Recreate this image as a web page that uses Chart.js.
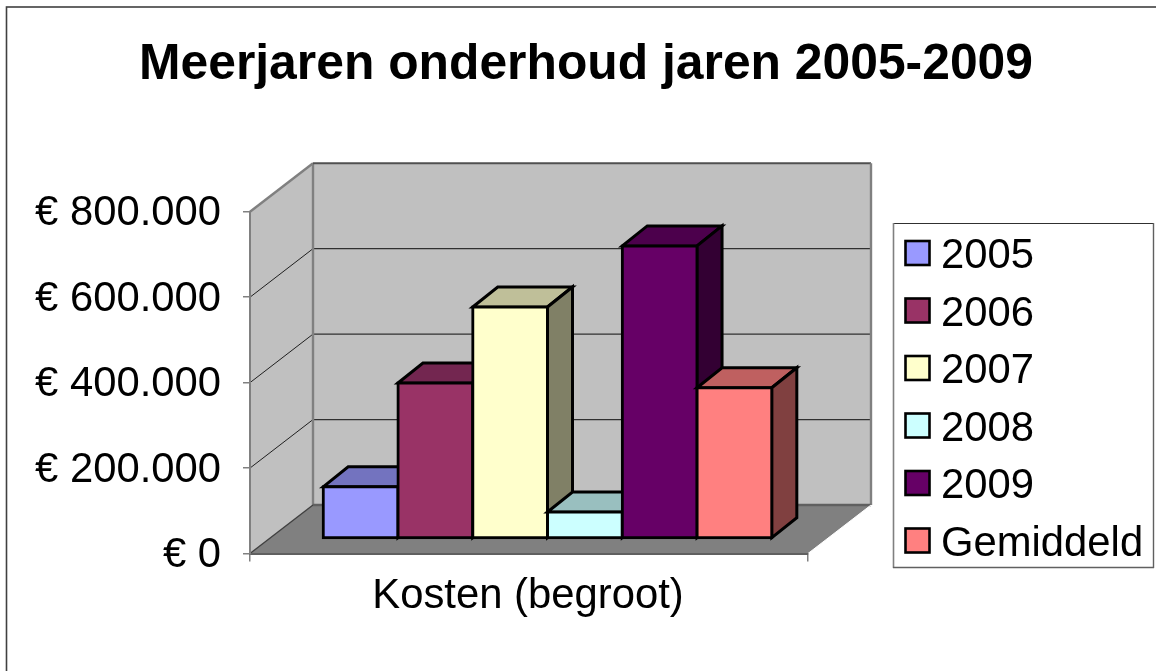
<!DOCTYPE html>
<html lang="nl">
<head>
  <meta charset="UTF-8">
  <title>Meerjaren onderhoud jaren 2005-2009</title>
  <script src="https://cdn.jsdelivr.net/npm/chart.js"></script>
  <style>
    html, body { margin: 0; padding: 0; background: #fff; overflow: hidden; }
    canvas { display: block; }
  </style>
</head>
<body>

<canvas id="chart" width="1156" height="671"></canvas>

<script>
const categories = ['Kosten (begroot)'];
const seriesNames = ['2005', '2006', '2007', '2008', '2009', 'Gemiddeld'];
const kosten = [121000, 364000, 542000, 62000, 685000, 353000];
const yTicks = [0, 200000, 400000, 600000, 800000];

// kleuren per reeks: voorkant, bovenkant, zijkant
const frontColors = ['#9999FF', '#993366', '#FFFFCC', '#CCFFFF', '#660066', '#FF8080'];
const topColors = ['#7373BF', '#732650', '#BFBF99', '#99BFBF', '#4C004C', '#BF6060'];
const sideColors = ['#4C4C80', '#4D1A33', '#808066', '#668080', '#330033', '#804040'];

const FONT = '"Liberation Sans", Arial, sans-serif';
const WALL = { dx: 63, dy: -48.5 };   // diepte van de vloer
const BAR_POS = { dx: 18.5, dy: -15 }; // voorkant balk t.o.v. as
const BAR_DEPTH = { dx: 25, dy: -20 };

function poly(ctx, pts, fill, stroke, lw) {
  ctx.beginPath();
  pts.forEach((p, i) => i ? ctx.lineTo(p[0], p[1]) : ctx.moveTo(p[0], p[1]));
  ctx.closePath();
  if (fill) { ctx.fillStyle = fill; ctx.fill(); }
  if (stroke) { ctx.strokeStyle = stroke; ctx.lineWidth = lw; ctx.stroke(); }
}

function line(ctx, x1, y1, x2, y2, color, lw) {
  ctx.beginPath();
  ctx.moveTo(x1, y1);
  ctx.lineTo(x2, y2);
  ctx.strokeStyle = color;
  ctx.lineWidth = lw;
  ctx.stroke();
}

const wallsPlugin = {
  id: 'walls',
  // kader, wanden en vloer
  beforeDraw(chart) {
    const ctx = chart.ctx;
    const a = chart.chartArea;
    const y = chart.scales.y;
    const b = a.bottom, t = a.top, l = a.left, r = a.right;
    const dx = WALL.dx, dy = WALL.dy;

    ctx.save();
    ctx.fillStyle = '#fff';
    ctx.fillRect(0, 0, chart.width, chart.height);
    ctx.strokeStyle = '#404040';
    ctx.lineWidth = 1.6;
    ctx.strokeRect(6.5, 7, 1200, 800);

    poly(ctx, [[l, t], [l + dx, t + dy], [l + dx, b + dy], [l, b]], '#C0C0C0');
    poly(ctx, [[l + dx, t + dy], [r + dx, t + dy], [r + dx, b + dy], [l + dx, b + dy]], '#C0C0C0');
    poly(ctx, [[l, b], [r, b], [r + dx, b + dy], [l + dx, b + dy]], '#808080');

    yTicks.forEach(v => {
      const py = y.getPixelForValue(v);
      if (v > 0) {
        line(ctx, l, py, l + dx, py + dy, '#202020', 1);
      }
      if (v > 0 && v < 800000) {
        line(ctx, l + dx, py + dy, r + dx, py + dy, '#303030', 1.2);
      }
    });

    // randen
    line(ctx, l, t, l + dx, t + dy, '#808080', 2.4);
    line(ctx, l + dx, t + dy, l + dx, b + dy, '#808080', 2.4);
    line(ctx, l + dx, t + dy, r + dx, t + dy, '#505050', 2);
    line(ctx, r + dx, t + dy, r + dx, b + dy, '#808080', 2.4);
    line(ctx, l, b, l + dx, b + dy, '#404040', 1.4);
    line(ctx, l + dx, b + dy, r + dx, b + dy, '#606060', 2.4);
    line(ctx, r, b, r + dx, b + dy, '#fff', 1);
    ctx.restore();
  },
  // balken van links naar rechts: boven- en zijkant hier, voorkant tekent Chart.js zelf
  beforeDatasetsDraw(chart) {
    const ctx = chart.ctx;
    const d = BAR_DEPTH;
    seriesNames.forEach((name, i) => {
      const meta = chart.getDatasetMeta(i);
      const bar = meta.data[0];
      const x0 = bar.x - bar.width / 2, x1 = bar.x + bar.width / 2;
      const top = bar.y, base = bar.base;

      ctx.save();
      ctx.translate(BAR_POS.dx, BAR_POS.dy);
      ctx.lineJoin = 'miter';
      poly(ctx, [[x0, top], [x0 + d.dx, top + d.dy], [x1 + d.dx, top + d.dy], [x1, top]], topColors[i], '#000', 3);
      poly(ctx, [[x1, top], [x1 + d.dx, top + d.dy], [x1 + d.dx, base + d.dy], [x1, base]], sideColors[i], '#000', 3);
      meta.controller.draw();
      ctx.restore();
    });
    return false;
  },
  afterDraw(chart) {
    // legenda, eigen kader want de tekst staat dichter op het blokje
    const ctx = chart.ctx;
    ctx.save();
    ctx.fillStyle = '#fff';
    ctx.fillRect(893.5, 223.5, 260, 344);
    line(ctx, 893, 223.5, 1154, 223.5, '#303030', 1.2);
    line(ctx, 893.5, 223, 893.5, 568, '#808080', 1.6);
    line(ctx, 1153.5, 223, 1153.5, 568, '#606060', 1.4);
    line(ctx, 893, 567.5, 1154, 567.5, '#606060', 1.4);
    ctx.font = '41.8px ' + FONT;
    ctx.textBaseline = 'middle';
    seriesNames.forEach((name, i) => {
      const cy = 253 + i * 57.5;
      ctx.fillStyle = frontColors[i];
      ctx.fillRect(905.5, cy - 12, 24, 24);
      ctx.strokeStyle = '#000';
      ctx.lineWidth = 2.6;
      ctx.strokeRect(905.5, cy - 12, 24, 24);
      ctx.fillStyle = '#000';
      ctx.fillText(name, 941, cy + 3.5);
    });
    ctx.restore();
  }
};

new Chart(document.getElementById('chart'), {
  type: 'bar',
  data: {
    labels: categories,
    datasets: seriesNames.map((name, i) => ({
      label: name,
      data: [kosten[i]],
      backgroundColor: frontColors[i],
      borderColor: '#000',
      borderWidth: 3,
      borderSkipped: false,
      inflateAmount: 1.5,
      clip: false
    }))
  },
  options: {
    responsive: false,
    animation: false,
    layout: { padding: { left: 16, right: 0, top: 0, bottom: 0 } },
    categoryPercentage: 0.804,
    barPercentage: 1,
    plugins: {
      legend: { display: false },
      tooltip: { enabled: false },
      title: {
        display: true,
        text: 'Meerjaren onderhoud jaren 2005-2009',
        color: '#000',
        font: { family: FONT, size: 49.8, weight: 'bold' },
        padding: { top: 35, bottom: 117 }
      }
    },
    scales: {
      x: {
        grid: { drawOnChartArea: false, tickLength: 8, color: '#808080', lineWidth: 1.5 },
        border: { color: '#606060', width: 2 },
        ticks: { color: '#000', padding: 10, labelOffset: -1, font: { family: FONT, size: 41.8 } },
        afterFit(s) { s.height = 117.5; }
      },
      y: {
        min: 0,
        max: 800000,
        grid: { drawOnChartArea: false, tickLength: 7, color: '#808080', lineWidth: 1.5 },
        border: { color: '#808080', width: 2 },
        ticks: {
          color: '#000',
          padding: 22,
          labelOffset: 2,
          stepSize: 200000,
          font: { family: FONT, size: 41.8 },
          callback: v => '€ ' + String(v).replace(/\B(?=(\d{3})+$)/g, '.')
        },
        afterFit(s) { s.width = 234; }
      },
      // lege as: ruimte voor de derde dimensie en de legenda
      spacer: {
        type: 'linear',
        position: 'right',
        display: true,
        grid: { display: false },
        border: { display: false },
        ticks: { display: false },
        afterFit(s) { s.width = 348; }
      }
    }
  },
  plugins: [wallsPlugin]
});
</script>

</body>
</html>
